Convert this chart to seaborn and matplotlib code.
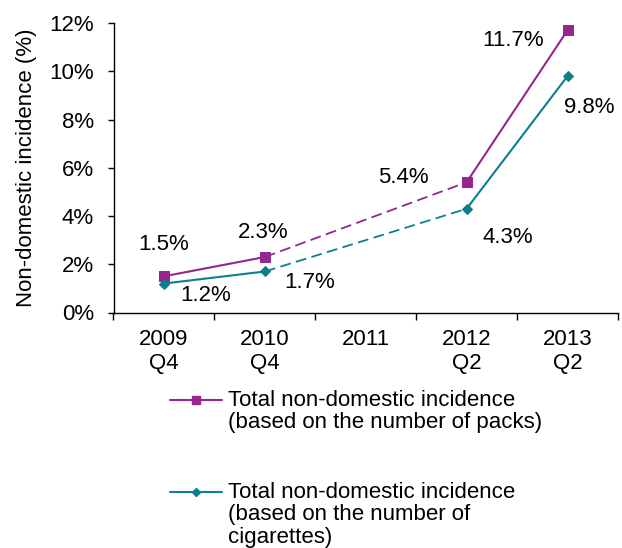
import matplotlib
matplotlib.use("Agg")
import matplotlib.pyplot as plt
import matplotlib.lines as mlines
import seaborn as sns
import pandas as pd
import numpy as np

# data
periods = ["2009\nQ4", "2010\nQ4", "2011", "2012\nQ2", "2013\nQ2"]
packs = [1.5, 2.3, np.nan, 5.4, 11.7]
cigarettes = [1.2, 1.7, np.nan, 4.3, 9.8]
label_packs = "Total non-domestic incidence\n(based on the number of packs)"
label_cigs = "Total non-domestic incidence\n(based on the number of\ncigarettes)"

purple = "#93278F"
teal = "#0B7F8E"

sns.set_style("ticks")
plt.rcParams["font.family"] = ["Liberation Sans", "DejaVu Sans"]
for k in ["text.color", "axes.labelcolor", "xtick.color", "ytick.color"]:
    plt.rcParams[k] = "black"

df = pd.DataFrame({"x": np.arange(len(periods)), "packs": packs, "cigs": cigarettes})

fig = plt.figure(figsize=(6.22, 5.48), dpi=100)
ax = fig.add_axes([113.5 / 622, 1 - 312.5 / 548, 504.5 / 622, 289.5 / 548])

solid_parts = [[0, 1], [3, 4]]
for col, color, marker, ms in [("packs", purple, "s", 7), ("cigs", teal, "D", 5.5)]:
    for part in solid_parts:
        sub = df.iloc[part]
        sns.lineplot(data=sub, x="x", y=col, ax=ax, color=color, linewidth=1.5,
                     marker=marker, markersize=ms, markeredgecolor=color)
    # dashed across the missing 2011
    sub = df.iloc[[1, 3]]
    sns.lineplot(data=sub, x="x", y=col, ax=ax, color=color, linewidth=1.3,
                 linestyle=(0, (6, 3)))

# value labels: (dx, dy) offsets in data units
fs = 16
offsets_packs = [(0, 1.32), (-0.02, 1.02), None, (-0.63, 0.2), (-0.54, -0.41)]
offsets_cigs = [(0.41, -0.5), (0.44, -0.46), None, (0.41, -1.19), (0.22, -1.3)]
for vals, offs in [(packs, offsets_packs), (cigarettes, offsets_cigs)]:
    for i, v in enumerate(vals):
        if offs[i] is None or np.isnan(v):
            continue
        dx, dy = offs[i]
        ax.text(i + dx, v + dy, f"{v:.1f}%", ha="center", va="center", fontsize=fs)

ax.set_xlim(-0.5, len(periods) - 0.5)
ax.set_ylim(0, 12)
ax.set_yticks(np.arange(0, 13, 2))
ax.set_yticklabels([f"{v}%" for v in range(0, 13, 2)], fontsize=16)
ax.set_xticks(np.arange(len(periods)))
ax.set_xticklabels(periods, fontsize=16, linespacing=1.2)
ax.set_xticks(np.arange(len(periods) + 1) - 0.5, minor=True)
ax.tick_params(axis="x", which="major", length=0, pad=12)
ax.tick_params(axis="x", which="minor", length=5, width=1, color="black")
ax.tick_params(axis="y", length=4, width=1, color="black", pad=10)
ax.set_xlabel("")
ax.set_ylabel("Non-domestic incidence (%)", fontsize=16, labelpad=9)
sns.despine(ax=ax)
for s in ["left", "bottom"]:
    ax.spines[s].set_color("black")
    ax.spines[s].set_linewidth(1)

# legend drawn below the axes
for yline, color, marker, ms, text in [(400, purple, "s", 6, label_packs),
                                        (492, teal, "D", 4.5, label_cigs)]:
    yf = 1 - yline / 548
    fig.add_artist(mlines.Line2D([170 / 622, 222 / 622], [yf, yf], color=color, linewidth=1.5))
    fig.add_artist(mlines.Line2D([196 / 622], [yf], color=color, marker=marker, markersize=ms,
                                 linestyle="None"))
    fig.text(228 / 622, yf + 10 / 548, text, ha="left", va="top", fontsize=16, linespacing=1.08)

fig.savefig("out.png", dpi=100)
